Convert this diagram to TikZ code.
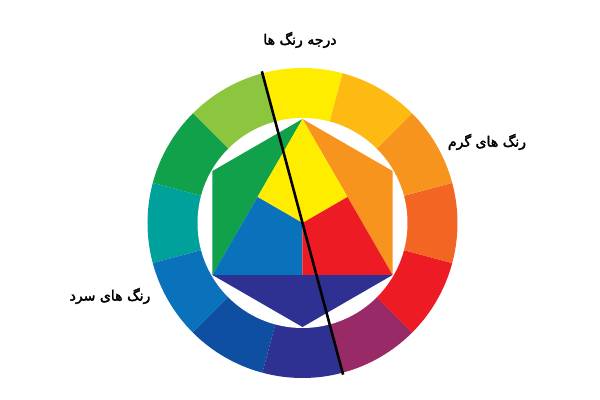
\documentclass[tikz,border=0pt]{standalone}
\usepackage{fontspec}
\usepackage{xcolor}
\newfontfamily\arabicfont[Script=Arabic, FakeBold=2.5]{DejaVu Sans}
\TeXXeTstate=1

\definecolor{wYellow}{HTML}{FFED00}
\definecolor{wYellowGreen}{HTML}{8CC63F}
\definecolor{wGreen}{HTML}{10A14A}
\definecolor{wTeal}{HTML}{00A19B}
\definecolor{wBlue}{HTML}{0A72BA}
\definecolor{wDarkBlue}{HTML}{0E4FA2}
\definecolor{wIndigo}{HTML}{2E3192}
\definecolor{wPurple}{HTML}{992A68}
\definecolor{wRed}{HTML}{ED1C24}
\definecolor{wRedOrange}{HTML}{F26522}
\definecolor{wOrange}{HTML}{F7941D}
\definecolor{wYellowOrange}{HTML}{FDBA12}

\begin{document}
\begin{tikzpicture}[
    scale=0.03,
    tagtext/.style={font=\arabicfont\fontsize{12}{14}\selectfont, inner sep=0pt},
    divider/.style={line width=2.2pt, black}
]
\useasboundingbox (-302.5,-177) rectangle (297.5,223);

% Outer ring
\foreach \a/\c in {90/wYellow, 120/wYellowGreen, 150/wGreen, 180/wTeal,
                   210/wBlue, 240/wDarkBlue, 270/wIndigo, 300/wPurple,
                   330/wRed, 0/wRedOrange, 30/wOrange, 60/wYellowOrange}
    \fill[\c] (0,0) -- (\a-15:155) arc[start angle=\a-15, end angle=\a+15, radius=155] -- cycle;
\fill[white] (0,0) circle (105);

% Hexagon corners and triangle points
\coordinate (O) at (0,0);
\coordinate (hexN) at (90:104);
\coordinate (hexNE) at (30:104);
\coordinate (hexSE) at (-30:104);
\coordinate (hexS) at (-90:104);
\coordinate (hexSW) at (210:104);
\coordinate (hexNW) at (150:104);
\coordinate (midL) at (150:52);
\coordinate (midR) at (30:52);
\coordinate (midB) at (-90:52);

% Secondary triangles
\fill[wGreen] (hexN) -- (hexNW) -- (hexSW) -- cycle;
\fill[wOrange] (hexN) -- (hexNE) -- (hexSE) -- cycle;
\fill[wIndigo] (hexSW) -- (hexS) -- (hexSE) -- cycle;

% Primary colours
\fill[wYellow] (hexN) -- (midL) -- (O) -- (midR) -- cycle;
\fill[wBlue] (hexSW) -- (midL) -- (O) -- (midB) -- cycle;
\fill[wRed] (hexSE) -- (midR) -- (O) -- (midB) -- cycle;

% Dividing line
\coordinate (lineTop) at (105:157);
\coordinate (lineBottom) at (285:157);
\draw[divider] (lineTop) -- (lineBottom);

% Labels
\node[tagtext] (hue) at (-2.5,183) {\beginR درجه  رنگ ها\endR};
\node[tagtext] (warm) at (184.5,81) {\beginR رنگ های گرم\endR};
\node[tagtext] (cool) at (-192.5,-73) {\beginR رنگ های سرد\endR};

\end{tikzpicture}
\end{document}
